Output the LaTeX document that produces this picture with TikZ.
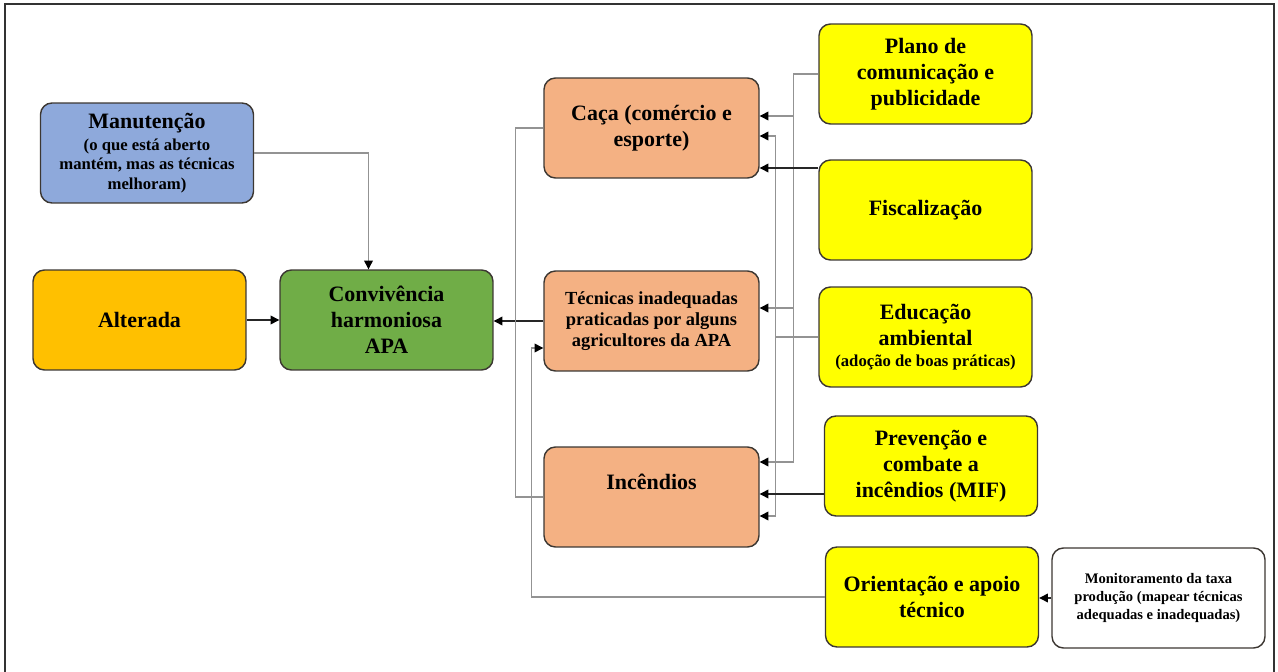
\documentclass[tikz,border=0pt]{standalone}
\usepackage{fontspec}
\setmainfont{Liberation Serif}
\usetikzlibrary{arrows.meta, positioning, calc}
\definecolor{apaazul}{RGB}{142,169,219}
\definecolor{apaouro}{RGB}{255,192,0}
\definecolor{apaverde}{RGB}{112,173,71}
\definecolor{apasalmao}{RGB}{244,177,131}
\definecolor{apaamarelo}{RGB}{255,255,0}
\definecolor{apaborda}{RGB}{60,55,50}
\newcommand{\msub}{\fontsize{9.5}{11}\selectfont}
\newcommand{\mtit}{\fontsize{12.5}{14.7}\selectfont}

\begin{document}
\begin{tikzpicture}[x=0.02cm, y=-0.02cm,
        caixa/.style={draw=apaborda, line width=0.8pt, rounded corners=6.5pt, minimum width=4.26cm, minimum height=2cm, inner sep=2pt, align=center, font=\mtit\bfseries},
        azul/.style={caixa, fill=apaazul},
        ouro/.style={caixa, fill=apaouro},
        verde/.style={caixa, fill=apaverde},
        salm/.style={caixa, fill=apasalmao, minimum width=4.3cm},
        amar/.style={caixa, fill=apaamarelo},
        bran/.style={caixa, fill=white},
        gline/.style={gray!85, line width=0.7pt},
        garr/.style={gline, -{Triangle[black, length=5pt, width=5pt]}},
        barr/.style={black!85, line width=0.7pt, -{Triangle[black, length=5pt, width=5pt]}}
      ]
        \useasboundingbox (0,0) rectangle (1278,672);
        \draw[black!80, line width=1.1pt] (5,672) -- (5,4) -- (1274,4) -- (1274,672);
        \node[azul, font=\msub\bfseries] (manut) at (147,153) {{\mtit Manutenção}\\[1.5pt](o que está aberto\\mantém, mas as técnicas\\melhoram)};
        \node[ouro] (alter) at (139.5,320) {Alterada};
        \node[verde] (conviv) at (386.5,320) {Convivência\\harmoniosa\\APA};
        \node[salm] (caca) at (651.5,128) {Caça (comércio e\\esporte)};
        \node[salm, font=\fontsize{10.5}{12}\selectfont\bfseries] (tecn) at (651.5,321) {Técnicas inadequadas\\praticadas por alguns\\agricultores da APA};
        \node[salm, text depth=17pt] (incend) at (651.5,497) {Incêndios};
        \node[amar] (plano) at (925.5,74) {Plano de\\comunicação e\\publicidade};
        \node[amar] (fisc) at (925.5,210) {Fiscalização};
        \node[amar] (educ) at (925.5,337) {Educação\\ambiental\\[-3pt]\msub (adoção de boas práticas)};
        \node[amar] (prev) at (931,466) {Prevenção e\\combate a\\incêndios (MIF)};
        \node[amar] (orient) at (932,597) {Orientação e apoio\\técnico};
        \node[bran, font=\fontsize{8.3}{10.5}\selectfont\bfseries] (monit) at (1158.5,598) {Monitoramento da taxa\\produção (mapear técnicas\\adequadas e inadequadas)};
        \draw[garr] (manut.east) -| ($(conviv.north)+(-18,0)$);
        \draw[barr] (alter) -- (conviv);
        \draw[barr] (tecn.west) -- (tecn.west -| conviv.east);
        \draw[gline] (caca.west) -- ++(-28,0) |- (incend.west);
        \draw[garr] (orient.west) -- ++(-293,0) |- ($(tecn.west)+(0,27)$);
        \draw[gline] (plano.west) -- ++(-25,0) coordinate (bp);
        \foreach \n/\d in {caca/-12, tecn/-13, incend/-35} { \draw[garr] (bp) |- ($(\n.east)+(0,\d)$); }
        \draw[gline] (educ.west) -- ++(-43,0) coordinate (be);
        \foreach \n/\d in {caca/8, incend/19} { \draw[garr] (be) |- ($(\n.east)+(0,\d)$); }
        \draw[barr] ($(fisc.west)+(0,-42)$) -- ($(caca.east)+(0,40)$);
        \draw[barr] ($(prev.west)+(0,28)$) -- ($(incend.east)+(0,-3)$);
        \draw[barr] (monit.west) -- (monit.west -| orient.east);
      \end{tikzpicture}
\end{document}
